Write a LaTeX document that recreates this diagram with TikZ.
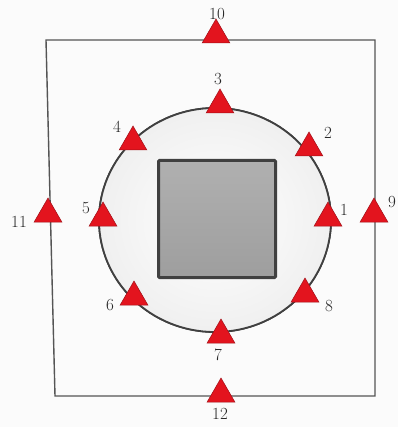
\documentclass[tikz,border=0pt]{standalone}
\usepackage{xcolor}
\usepackage{tikz}
\usetikzlibrary{shapes.geometric,positioning}
\definecolor{markred}{HTML}{E3141E}
\definecolor{markedge}{HTML}{A01018}
\definecolor{lineg}{HTML}{555555}

\begin{document}
\begin{tikzpicture}[x=1pt, y=-1pt,
  marker/.style={regular polygon, regular polygon sides=3, minimum size=32pt, inner sep=0pt, fill=markred, draw=markedge, line width=0.5pt},
  num/.style={font=\fontsize{17}{18}\selectfont, text=black!85, inner sep=0pt},
  frame/.style={draw=lineg, line width=1.4pt},
  ring/.style={draw=black!75, line width=1.8pt, inner color=white, outer color=black!6},
  block/.style={draw=black!75, line width=3pt, rounded corners=1pt, minimum size=117pt, top color=black!31, bottom color=black!38}
]
  \useasboundingbox[fill=black!1.5] (0,0) rectangle (398,427);

  % outer frame and ring
  \draw[frame] (46,40) -- (375,40) -- (375,396) -- (55,396) -- cycle;
  \shade[ring] (215,220) ellipse [x radius=116, y radius=112];
  \draw[ring] (215,220) ellipse [x radius=116, y radius=112];
  \node[block] (core) at (217,219) {};

  % markers on the ring
  \node[marker] (m1) at (328,218) {};
  \node[marker] (m2) at (309,148) {};
  \node[marker] (m3) at (220,105) {};
  \node[marker] (m4) at (133,142) {};
  \node[marker] (m5) at (103,218) {};
  \node[marker] (m6) at (134,297) {};
  \node[marker] (m7) at (221,335) {};
  \node[marker] (m8) at (305,294) {};

  % markers on the frame
  \node[marker] (m9) at (374,214) {};
  \node[marker] (m10) at (216,35) {};
  \node[marker] (m11) at (48,214) {};
  \node[marker] (m12) at (221,394) {};

  % numbers
  \node[num] (n1) at (344,210) {1};
  \node[num] (n2) at (328,133) {2};
  \node[num] (n3) at (218,79) {3};
  \node[num] (n4) at (117,127) {4};
  \node[num] (n5) at (86,208) {5};
  \node[num] (n6) at (110,305) {6};
  \node[num] (n7) at (218,355) {7};
  \node[num] (n8) at (329,306) {8};
  \node[num] (n9) at (392,202) {9};
  \node[num] (n10) at (217,14) {10};
  \node[num] (n11) at (19,222) {11};
  \node[num] (n12) at (220,414) {12};
\end{tikzpicture}
\end{document}
